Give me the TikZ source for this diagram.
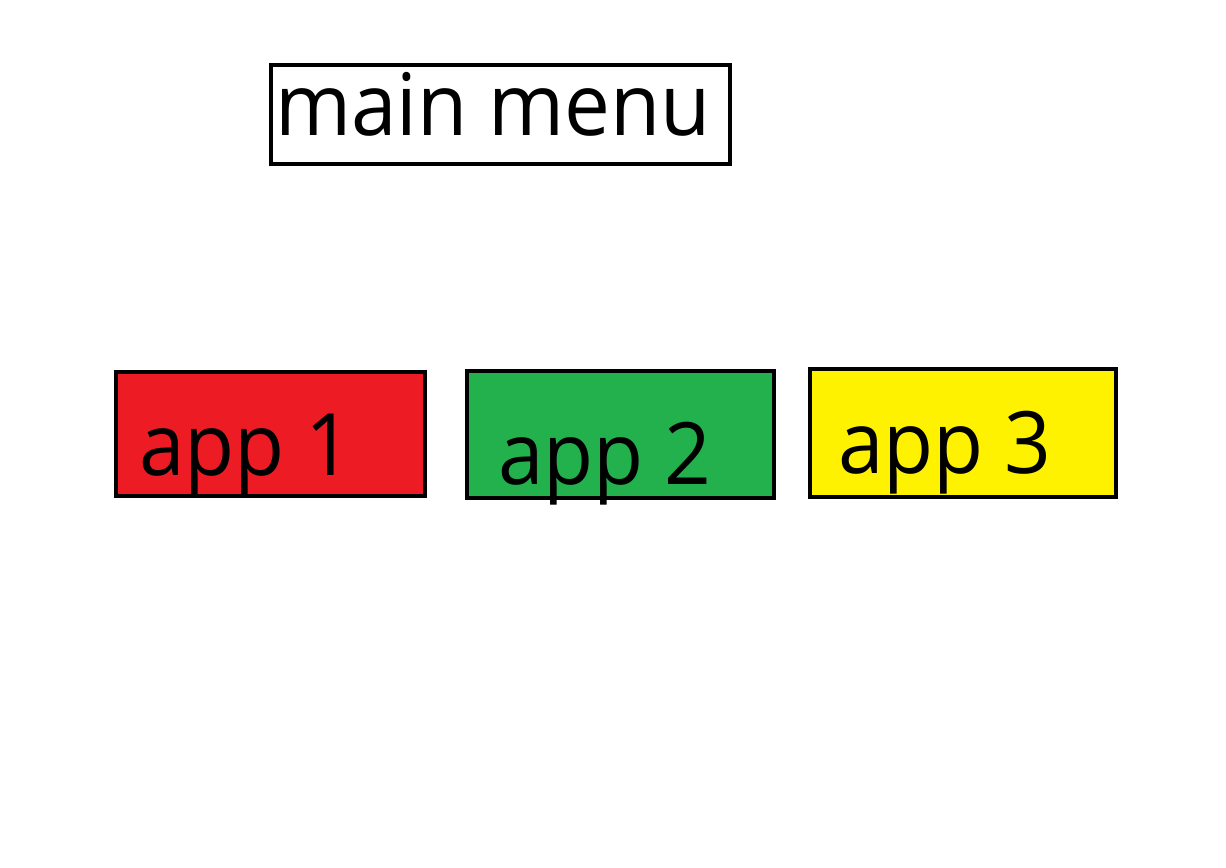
\documentclass[tikz,border=0pt]{standalone}
\usepackage{fontspec}
\setmainfont[FakeStretch=0.95]{Open Sans}
\definecolor{appred}{HTML}{ED1C24}
\definecolor{appgreen}{HTML}{22B14C}
\definecolor{appyellow}{HTML}{FFF200}
\begin{document}
\begin{tikzpicture}[x=0.02cm,y=-0.02cm,
  box/.style={draw=black,line width=0.09cm,inner sep=0pt,outer sep=0pt,rectangle},
  lbl/.style={inner sep=0pt,outer sep=0pt,anchor=base west,font=\fontsize{49}{60}\selectfont}]
\useasboundingbox[fill=white] (0,0) rectangle (1226,867);
\node[box,minimum width=9.18cm,minimum height=1.98cm] (mainbox) at (500.5,114.5) {};
\node[box,fill=appred,minimum width=6.18cm,minimum height=2.48cm] (box1) at (270.5,434) {};
\node[box,fill=appgreen,minimum width=6.14cm,minimum height=2.54cm] (box2) at (620.5,434.5) {};
\node[box,fill=appyellow,minimum width=6.12cm,minimum height=2.56cm] (box3) at (963,433) {};
\node[lbl] (maintext) at (275,135) {main menu};
\node[lbl] (text1) at (139,475) {app 1};
\node[lbl] (text2) at (498,484) {app 2};
\node[lbl] (text3) at (838,473) {app 3};
\end{tikzpicture}
\end{document}
